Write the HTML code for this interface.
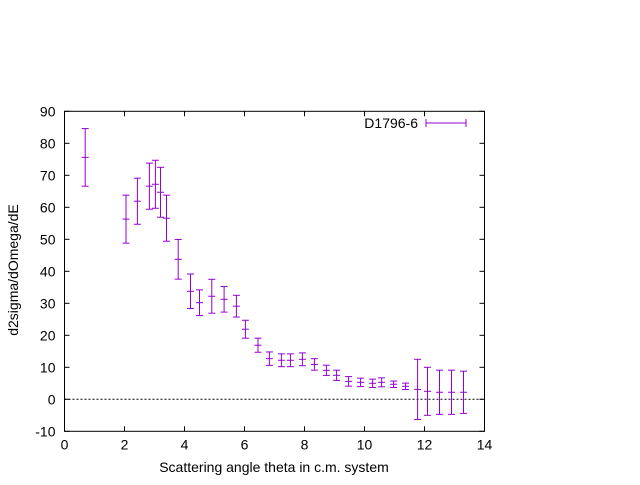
<!DOCTYPE html>
<html><head><meta charset="utf-8"><style>
body{margin:0;background:#fff;}
svg text{font-family:"Liberation Sans",sans-serif;font-size:14px;fill:#000;}
</style></head><body>
<svg id="chart" width="640" height="480" xmlns="http://www.w3.org/2000/svg">
<g id="axes"></g>
<g id="marks"></g>
<text transform="translate(18,270) rotate(-90)" text-anchor="middle">d2sigma/dOmega/dE</text>
<text x="274" y="472" text-anchor="middle">Scattering angle theta in c.m. system</text>
<g>
<text x="418" y="128" text-anchor="end">D1796-6</text>
<line x1="426" y1="123" x2="466" y2="123" stroke="#9400d3" stroke-width="1"/>
<line x1="426" y1="119" x2="426" y2="127" stroke="#9400d3"/>
<line x1="466" y1="119" x2="466" y2="127" stroke="#9400d3"/>
</g>
</svg>
<script>
const xs=[0.69,2.05,2.43,2.83,3.03,3.2,3.4,3.79,4.2,4.5,4.91,5.32,5.73,6.03,6.45,6.83,7.23,7.53,7.93,8.33,8.73,9.07,9.47,9.87,10.27,10.57,10.97,11.37,11.77,12.1,12.5,12.9,13.3];
const ys=[75.6,56.3,61.9,66.6,67.2,64.7,56.6,43.75,33.75,30.2,32.2,31.25,29.1,21.9,16.9,12.7,12.2,12.2,12.5,10.9,9.06,7.5,5.6,5.3,5.0,5.3,4.7,4.06,3.1,2.5,2.2,2.2,2.2];
const errs=[9,7.5,7.2,7.2,7.5,7.8,7.2,6.2,5.4,4,5.3,4,3.4,2.8,2.2,2.1,2,2,2,1.8,1.6,1.6,1.5,1.3,1.3,1.4,1.0,1.0,9.4,7.5,6.9,6.9,6.6];
const xTicks=[0,2,4,6,8,10,12,14];
const yTicks=[-10,0,10,20,30,40,50,60,70,80,90];
const L=64.5,R=484.5,T=111.3,B=431.3;
const X=v=>L+(v-0)/14*(R-L);
const Y=v=>B-(v+10)/100*(B-T);
const NS="http://www.w3.org/2000/svg";
function mk(p,tag,a){const e=document.createElementNS(NS,tag);for(const k in a)e.setAttribute(k,a[k]);p.appendChild(e);return e;}
const ax=document.getElementById('axes');
const zl=mk(ax,'line',{x1:L,x2:R,y1:Y(0),y2:Y(0),stroke:'#000','stroke-dasharray':'2,2','stroke-width':1});


const fr=mk(ax,'rect',{x:L,y:T,width:R-L,height:B-T,fill:'none',stroke:'#000','stroke-width':1});


xTicks.forEach(v=>{const x=X(v);
mk(ax,'line',{x1:x,x2:x,y1:B,y2:B-5,stroke:'#000'});
mk(ax,'line',{x1:x,x2:x,y1:T,y2:T+5,stroke:'#000'});
const t=mk(ax,'text',{x:x,y:B+18,'text-anchor':'middle'});t.textContent=v;

});
yTicks.forEach(v=>{const y=Y(v);
mk(ax,'line',{x1:L,x2:L+5,y1:y,y2:y,stroke:'#000'});
mk(ax,'line',{x1:R,x2:R-5,y1:y,y2:y,stroke:'#000'});
const t=mk(ax,'text',{x:L-9,y:y+5,'text-anchor':'end'});t.textContent=v;

});
const mg=document.getElementById('marks');
xs.forEach((xv,i)=>{const x=X(xv),y=Y(ys[i]),y1=Y(ys[i]+errs[i]),y2=Y(ys[i]-errs[i]);
const g=mk(mg,'g',{stroke:'#9400d3','stroke-width':1});


mk(g,'line',{x1:x,x2:x,y1:y1,y2:y2});
mk(g,'line',{x1:x-3.5,x2:x+3.5,y1:y1,y2:y1});
mk(g,'line',{x1:x-3.5,x2:x+3.5,y1:y2,y2:y2});
mk(g,'line',{x1:x-3.5,x2:x+3.5,y1:y,y2:y});});
</script>
</body></html>
